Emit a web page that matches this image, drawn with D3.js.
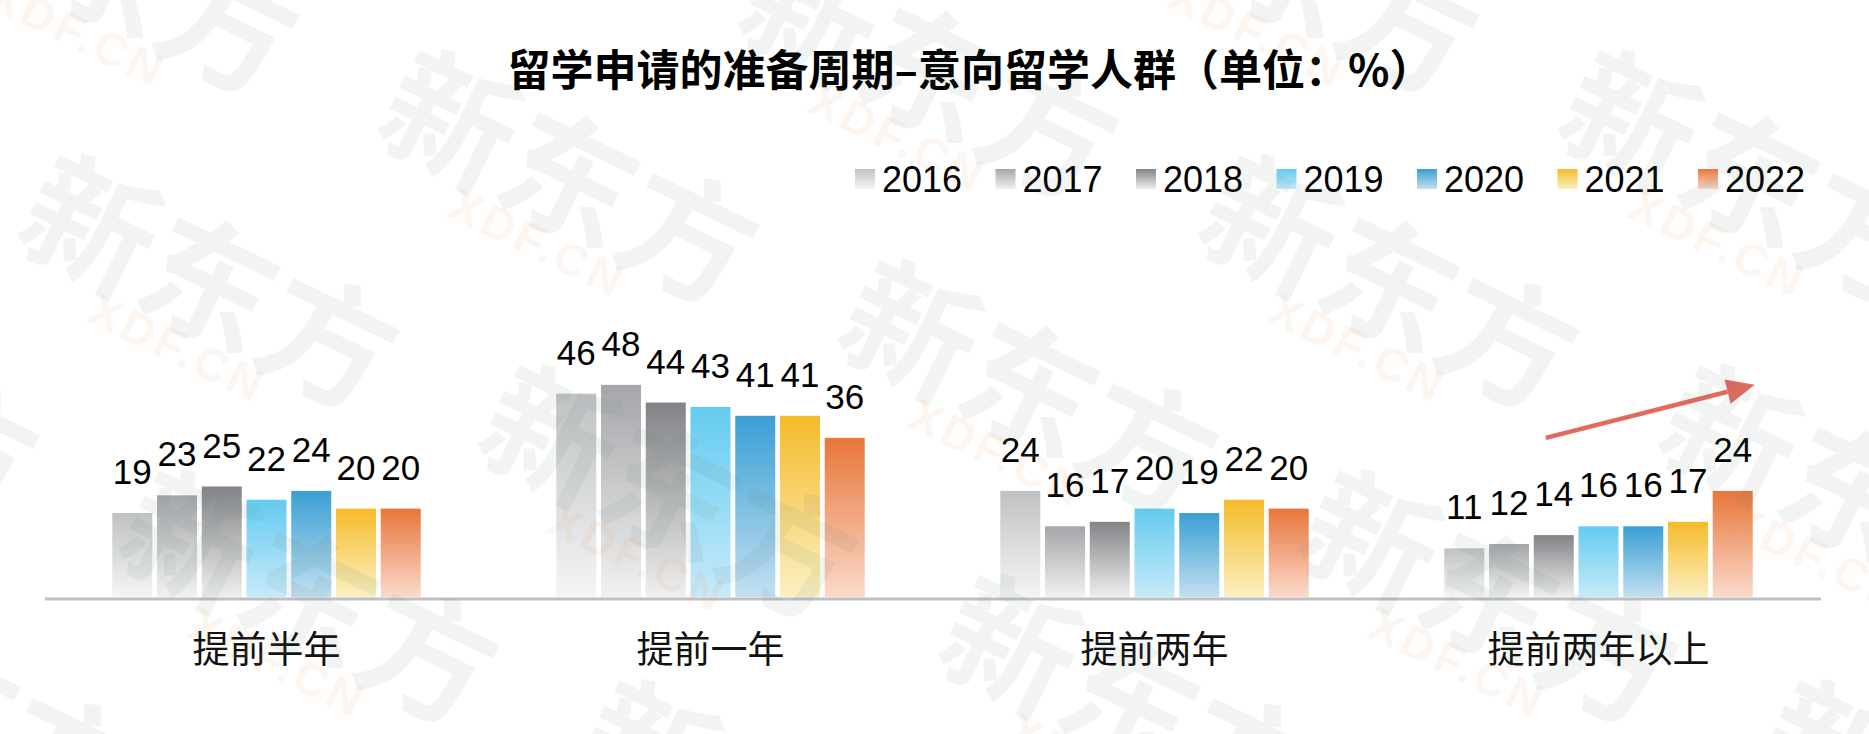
<!DOCTYPE html>
<html>
<head>
<meta charset="utf-8">
<script src="https://cdn.jsdelivr.net/npm/d3@7"></script>
<style>
  html, body { margin: 0; padding: 0; background: #fff; }
  #chart { width: 1869px; height: 734px; }
</style>
</head>
<body>
<div id="chart"></div>
<script>
// data
const categories = ['提前半年', '提前一年', '提前两年', '提前两年以上']
const years = ['2016', '2017', '2018', '2019', '2020', '2021', '2022']
const v2016 = [19, 46, 24, 11]
const v2017 = [23, 48, 16, 12]
const v2018 = [25, 44, 17, 14]
const v2019 = [22, 43, 20, 16]
const v2020 = [24, 41, 19, 16]
const v2021 = [20, 41, 22, 17]
const v2022 = [20, 36, 20, 24]
const seriesValues = [v2016, v2017, v2018, v2019, v2020, v2021, v2022]
const title = '留学申请的准备周期–意向留学人群（单位：%）'

const colorTop = ['#bfc1c3', '#a5a6a9', '#828386', '#63cbf0', '#3a9fd4', '#f5bb2a', '#e8763a']
const colorBottom = ['#f5f5f6', '#f1f1f2', '#efeff0', '#c8eaf8', '#c2e0f1', '#fbf0c2', '#fbdacb']

const svgWidth = 1869
const svgHeight = 734
const baseY = 597

const cjk = '"Noto Sans CJK SC", "Noto Sans", sans-serif'
const latin = '"Liberation Sans", Arial, sans-serif'

const svg = d3.select('#chart')
    .append('svg')
    .attr('width', svgWidth)
    .attr('height', svgHeight)

svg.append('rect')
    .attr('width', svgWidth)
    .attr('height', svgHeight)
    .attr('fill', '#fff')

// gradients, one per year
const defs = svg.append('defs')
years.forEach(function(yr, i) {
    const g = defs.append('linearGradient')
        .attr('id', 'grad' + yr)
        .attr('x1', 0).attr('y1', 0)
        .attr('x2', 0).attr('y2', 1)
    g.append('stop').attr('offset', '0%').attr('stop-color', colorTop[i])
    g.append('stop').attr('offset', '100%').attr('stop-color', colorBottom[i])
})

const x0 = d3.scaleBand()
    .domain(categories)
    .range([44.5, 1820.5])
    .padding(0)

const x1 = d3.scaleBand()
    .domain(years)
    .range([-156.6, 156.6])
    .paddingInner(0.106)
    .paddingOuter(0.053)

const yScale = d3.scaleLinear()
    .domain([0, 48])
    .range([baseY, baseY - 48 * 4.42])

// flatten into rows for drawing
const rows = []
categories.forEach(function(cat, ci) {
    years.forEach(function(yr, yi) {
        rows.push({cat: cat, year: yr, value: seriesValues[yi][ci]})
    })
})

const chartGroup = svg.append('g')

chartGroup.selectAll('rect.bar')
    .data(rows)
    .enter()
    .append('rect')
    .attr('class', 'bar')
    .attr('x', d => x0(d.cat) + x0.bandwidth() / 2 + x1(d.year))
    .attr('y', d => yScale(d.value))
    .attr('width', x1.bandwidth())
    .attr('height', d => baseY - yScale(d.value))
    .attr('fill', d => 'url(#grad' + d.year + ')')

chartGroup.selectAll('text.val')
    .data(rows)
    .enter()
    .append('text')
    .attr('class', 'val')
    .attr('x', d => x0(d.cat) + x0.bandwidth() / 2 + x1(d.year) + x1.bandwidth() / 2)
    .attr('y', d => yScale(d.value) - 29)
    .attr('text-anchor', 'middle')
    .attr('font-family', latin)
    .attr('font-size', 35)
    .attr('fill', '#000')
    .text(d => d.value)

// baseline axis
const bottomAxis = d3.axisBottom(x0).tickSize(0).tickPadding(0)
const axisG = chartGroup.append('g')
    .attr('transform', `translate(0,${baseY + 1.5})`)
    .call(bottomAxis)
axisG.select('.domain')
    .attr('stroke', '#bfbfc3')
    .attr('stroke-width', 3)
axisG.selectAll('.tick text')
    .attr('y', 48)
    .attr('dy', 0)
    .attr('dominant-baseline', 'central')
    .attr('font-family', cjk)
    .attr('font-size', 37)
    .attr('fill', '#111')

// title
svg.append('text')
    .attr('x', 970)
    .attr('y', 67)
    .attr('text-anchor', 'middle')
    .attr('dominant-baseline', 'central')
    .attr('font-family', cjk)
    .attr('font-weight', 'bold')
    .attr('font-size', 43)
    .attr('fill', '#000')
    .text(title)

// legend
const legend = svg.append('g')
    .selectAll('g')
    .data(years)
    .enter()
    .append('g')
    .attr('transform', (d, i) => `translate(${855 + i * 140.5},169)`)

legend.append('rect')
    .attr('width', 20)
    .attr('height', 20)
    .attr('fill', d => 'url(#grad' + d + ')')

legend.append('text')
    .attr('x', 27)
    .attr('y', 22.7)
    .attr('font-family', latin)
    .attr('font-size', 36)
    .attr('fill', '#000')
    .text(d => d)

// trend arrow over the last group: from the 2018 bar at 36 up to past the 2022 bar at 48
const lastCat = categories[categories.length - 1]
const tail = [x0(lastCat) + x0.bandwidth() / 2 + x1('2018') + 12, yScale(36)]
const tip = [x0(lastCat) + x0.bandwidth() / 2 + x1('2022') + x1.bandwidth() + 2, yScale(48)]
const dx = tip[0] - tail[0]
const dy = tip[1] - tail[1]
const len = Math.sqrt(dx * dx + dy * dy)
const ux = dx / len, uy = dy / len
const headLen = 28, headHalf = 12.5
const baseC = [tip[0] - ux * headLen, tip[1] - uy * headLen]

svg.append('line')
    .attr('x1', tail[0]).attr('y1', tail[1])
    .attr('x2', baseC[0]).attr('y2', baseC[1])
    .attr('stroke', '#e4695d')
    .attr('stroke-width', 4.5)

svg.append('path')
    .attr('d', d3.line()([
        tip,
        [baseC[0] - uy * headHalf, baseC[1] + ux * headHalf],
        [baseC[0] + uy * headHalf, baseC[1] - ux * headHalf]
    ]) + 'Z')
    .attr('fill', '#e4695d')

// faint watermark tiles, drawn over the chart
const wm = svg.append('g').attr('pointer-events', 'none')
for (let i = -3; i <= 6; i++) {
    for (let j = -3; j <= 4; j++) {
        const cx = 178 + i * 360 + j * 460
        const cy = 348 - i * 105 + j * 210
        if (cx < -300 || cx > svgWidth + 300 || cy < -200 || cy > svgHeight + 250) continue
        const t = wm.append('g')
            .attr('transform', `translate(${cx},${cy}) rotate(26)`)
        t.append('text')
            .attr('x', 0)
            .attr('y', -80)
            .attr('text-anchor', 'middle')
            .attr('dominant-baseline', 'central')
            .attr('font-family', cjk)
            .attr('font-weight', 700)
            .attr('font-size', 132)
            .attr('fill', 'rgb(85,125,115)')
            .attr('opacity', 0.08)
            .text('新东方')
        t.append('text')
            .attr('x', 0)
            .attr('y', 0)
            .attr('text-anchor', 'middle')
            .attr('dominant-baseline', 'central')
            .attr('font-family', latin)
            .attr('font-weight', 'bold')
            .attr('font-size', 46)
            .attr('letter-spacing', 4)
            .attr('fill', 'rgb(235,155,85)')
            .attr('opacity', 0.09)
            .text('XDF.CN')
    }
}
</script>
</body>
</html>
